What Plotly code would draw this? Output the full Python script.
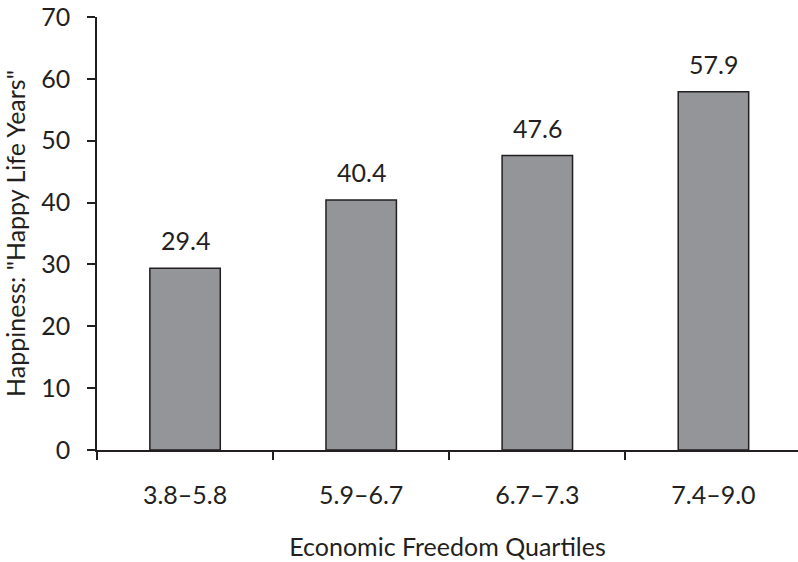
import plotly.graph_objects as go

# Economic freedom quartiles and average "happy life years" per quartile
quartiles = ["3.8–5.8", "5.9–6.7", "6.7–7.3", "7.4–9.0"]
happy_life_years = [29.4, 40.4, 47.6, 57.9]
y_ticks = [0, 10, 20, 30, 40, 50, 60, 70]

ink = "#231f20"
font_family = "Lato, 'Open Sans', sans-serif"
fsize = 25

fig = go.Figure(
    go.Bar(
        x=quartiles,
        y=happy_life_years,
        width=0.4,
        marker=dict(color="#939598", line=dict(color=ink, width=1.5)),
        hoverinfo="x+y",
    )
)

# Value labels above each bar
for q, v in zip(quartiles, happy_life_years):
    fig.add_annotation(
        x=q, y=v, text=f"{v:.1f}", showarrow=False,
        yanchor="bottom", yshift=11,
        font=dict(family=font_family, size=fsize, color=ink),
    )

fig.update_layout(
    width=798, height=562,
    margin=dict(l=97, r=0, t=17, b=112),
    paper_bgcolor="white", plot_bgcolor="white",
    showlegend=False,
    font=dict(family=font_family, size=fsize, color=ink),
    xaxis=dict(
        type="category",
        range=[-0.5, 3.48],
        showline=True, linecolor=ink, linewidth=1.5,
        ticks="outside", tickson="boundaries", ticklen=8, tickwidth=1.5, tickcolor=ink,
        ticklabelstandoff=22,
        showgrid=False, zeroline=False,
        title=dict(text="Economic Freedom Quartiles", standoff=31,
                   font=dict(family=font_family, size=fsize, color=ink)),
    ),
    yaxis=dict(
        range=[0, 70],
        tickvals=y_ticks,
        showline=True, linecolor=ink, linewidth=1.5,
        ticks="outside", ticklen=8, tickwidth=1.5, tickcolor=ink,
        ticklabelstandoff=12,
        showgrid=False, zeroline=False,
        title=dict(text='Happiness: "Happy Life Years"', standoff=12,
                   font=dict(family=font_family, size=fsize, color=ink)),
    ),
)

fig.write_html("out.html")
